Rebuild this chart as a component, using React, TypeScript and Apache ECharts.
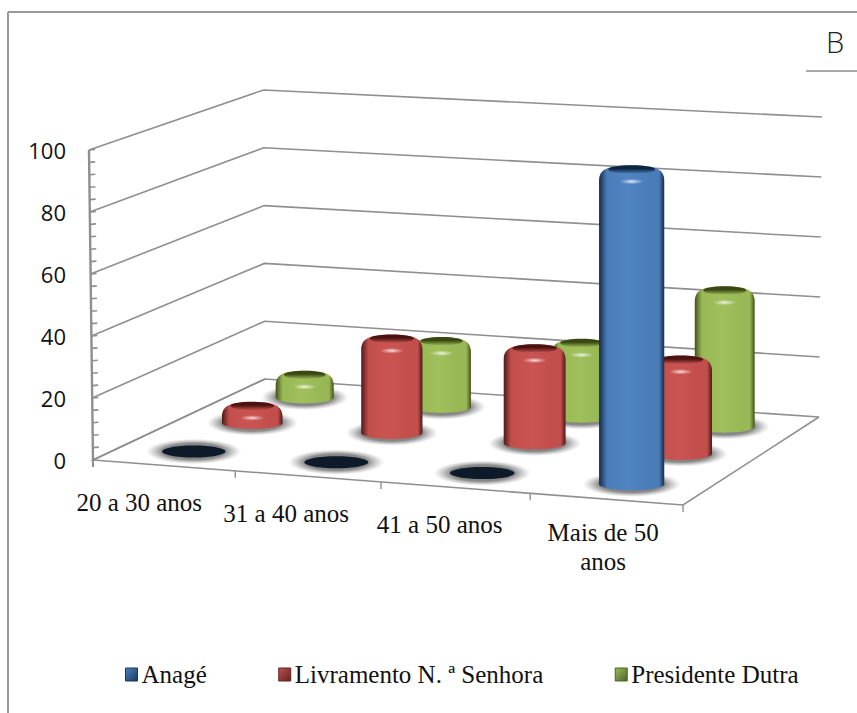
import React, { useEffect, useRef } from "react";
import * as echarts from "echarts";

const categories = ["20 a 30 anos", "31 a 40 anos", "41 a 50 anos", "Mais de 50\nanos"];
const yTicks = [0, 20, 40, 60, 80, 100];
const minorTicks = [0, 4, 8, 12, 16, 20, 24, 28, 32, 36, 40, 44, 48, 52, 56, 60, 64, 68, 72, 76, 80, 84, 88, 92, 96, 100];
const anage = [0, 0, 0, 100];
const livramento = [5, 30.5, 30.5, 30];
const presidente = [7, 21.5, 24, 44.5];

const seriesDepth = { anage: 0.16, livramento: 0.5, presidente: 0.82 };
const palettes = {
  anage: { main: "#4A7CB8", light: "#5085C2", edge: "#142c4a", cap: "#0e2540", legendA: "#4F81BD", legendB: "#17375E" },
  livramento: { main: "#C24F4C", light: "#CB5451", edge: "#4c1a18", cap: "#4a1311", legendA: "#C0504D", legendB: "#632523" },
  presidente: { main: "#98B856", light: "#A0C05C", edge: "#435219", cap: "#3a4712", legendA: "#9BBB59", legendB: "#4F6228" },
};

const GRID = { left: 93, top: 150, width: 590, height: 310 };
const FL = [93, 460], FR = [683, 505], BR = [819, 417], BL = [265, 379];
const FL_TOP = [89, 150], BL_TOP = [263.5, 90], BR_TOP = [822, 117];
const catLabelOffset = [
  [-24.5, 37],
  [-21.5, 37],
  [-15.5, 36.5],
  [-3, 48],
];
const barShiftX = 1.5;

function homography() {
  const sx = FL[0] - FR[0] + BR[0] - BL[0];
  const sy = FL[1] - FR[1] + BR[1] - BL[1];
  const dx1 = FR[0] - BR[0], dy1 = FR[1] - BR[1];
  const dx2 = BL[0] - BR[0], dy2 = BL[1] - BR[1];
  const den = dx1 * dy2 - dx2 * dy1;
  const g = (sx * dy2 - dx2 * sy) / den;
  const h = (dx1 * sy - sx * dy1) / den;
  const a = FR[0] - FL[0] + g * FR[0];
  const b = BL[0] - FL[0] + h * BL[0];
  const d = FR[1] - FL[1] + g * FR[1];
  const e = BL[1] - FL[1] + h * BL[1];
  return (u: number, v: number) => {
    const w = g * u + h * v + 1;
    return [(a * u + b * v + FL[0]) / w, (d * u + e * v + FL[1]) / w];
  };
}
const floor = homography();

function heightRatio(u: number, v: number) {
  const front = 1 + 0.02 * u;
  const back = 0.932 + 0.036 * u;
  return front + (back - front) * v;
}

const GREY = "#8f8f8f";
const lineStyle = { stroke: GREY, lineWidth: 1.6, fill: "none" };

function frameSeries() {
  return {
    type: "custom",
    name: "frame",
    silent: true,
    data: yTicks.map((t) => [0, t]),
    encode: { x: 0, y: 1 },
    z: 1,
    renderItem: (_: any, api: any) => {
      const val = api.value(1);
      const y0 = api.coord([0, 0])[1];
      const y1 = api.coord([0, 100])[1];
      const t = (y0 - api.coord([0, val])[1]) / (y0 - y1);
      const mix = (a: number[], b: number[]) => [a[0] + (b[0] - a[0]) * t, a[1] + (b[1] - a[1]) * t];
      return {
        type: "polyline",
        shape: { points: [mix(FL, FL_TOP), mix(BL, BL_TOP), mix(BR, BR_TOP)] },
        style: lineStyle,
      };
    },
  };
}

function axisDecorSeries() {
  return {
    type: "custom",
    name: "axisDecor",
    silent: true,
    data: minorTicks.map((t) => [0, t]),
    encode: { x: 0, y: 1 },
    z: 1,
    renderItem: (_: any, api: any) => {
      const val = api.value(1);
      const y0 = api.coord([0, 0])[1];
      const y1 = api.coord([0, 100])[1];
      const y = api.coord([0, val])[1];
      const t = (y0 - y) / (y0 - y1);
      const x = FL[0] + (FL_TOP[0] - FL[0]) * t;
      if (val === 0) {
        return { type: "line", shape: { x1: x, y1: y, x2: x, y2: y + 7 }, style: { stroke: GREY, lineWidth: 2 } };
      }
      return { type: "line", shape: { x1: x, y1: y, x2: x + 6, y2: y - 0.5 }, style: { stroke: GREY, lineWidth: 1.6 } };
    },
  };
}

function floorSeries() {
  return {
    type: "custom",
    name: "floor",
    silent: true,
    data: [[0, 0]],
    encode: { x: 0, y: 1 },
    z: 1,
    renderItem: () => {
      const children: any[] = [
        { type: "polyline", shape: { points: [BL, FL, FR, BR] }, style: lineStyle },
        { type: "line", shape: { x1: FL[0], y1: FL[1], x2: FL_TOP[0], y2: FL_TOP[1] }, style: { stroke: GREY, lineWidth: 2.4 } },
      ];
      categories.forEach((_, i) => {
        const p = floor((i + 1) / categories.length, 0);
        children.push({
          type: "line",
          shape: { x1: p[0], y1: p[1], x2: p[0], y2: p[1] + 7 },
          style: { stroke: GREY, lineWidth: 1.4 },
        });
      });
      return { type: "group", children };
    },
  };
}

function catLabelSeries() {
  return {
    type: "custom",
    name: "catLabels",
    silent: true,
    data: categories.map((_, i) => [i, 0]),
    encode: { x: 0, y: 1 },
    z: 5,
    renderItem: (_: any, api: any) => {
      const i = api.value(0);
      const u = (api.coord([i, 0])[0] - GRID.left) / GRID.width;
      const p = floor(u, 0);
      return {
        type: "text",
        style: {
          x: p[0] + catLabelOffset[i][0],
          y: p[1] + catLabelOffset[i][1],
          text: categories[i],
          fill: "#111",
          font: '25px "Liberation Serif"',
          align: "center",
          verticalAlign: "middle",
          lineHeight: 29,
        },
      };
    },
  };
}

function barSeries(name: string, key: keyof typeof palettes, values: number[], z: number) {
  const pal = palettes[key];
  const v = seriesDepth[key];
  return {
    type: "custom",
    name,
    data: values.map((val, i) => [i, val]),
    encode: { x: 0, y: 1 },
    z,
    itemStyle: { color: pal.main },
    renderItem: (_: any, api: any) => {
      const i = api.value(0);
      const val = api.value(1);
      const c0 = api.coord([i, 0]);
      const u = (c0[0] - GRID.left) / GRID.width;
      const base = floor(u, v);
      const cx = base[0] + barShiftX;
      const yb = base[1];
      const h = (c0[1] - api.coord([i, val])[1]) * heightRatio(u, v);
      const w = 63 + u * 2.5 - (v - 0.16) * 8;
      const hw = w / 2;
      const l = cx - hw, r = cx + hw;
      const ry = 6;
      const shadow = {
        type: "ellipse",
        shape: { cx, cy: yb, rx: hw * 1.5, ry: ry * 2.1 },
        style: {
          fill: {
            type: "radial", x: 0.5, y: 0.5, r: 0.5,
            colorStops: [
              { offset: 0, color: "rgba(70,70,70,0.85)" },
              { offset: 0.66, color: "rgba(90,90,90,0.7)" },
              { offset: 1, color: "rgba(140,140,140,0)" },
            ],
          },
        },
      };
      if (val === 0) {
        return {
          type: "group",
          children: [
            shadow,
            { type: "ellipse", shape: { cx, cy: yb, rx: hw, ry }, style: { fill: "#0c1a2a" } },
          ],
        };
      }
      const yt = yb - h;
      const top = yt - 6;
      const d =
        `M${l} ${yb}A${hw} ${ry} 0 0 0 ${r} ${yb}L${r} ${top + 15}` +
        `C${r} ${top + 3} ${cx + hw * 0.7} ${top} ${cx} ${top}` +
        `C${cx - hw * 0.7} ${top} ${l} ${top + 3} ${l} ${top + 15}Z`;
      return {
        type: "group",
        children: [
          shadow,
          {
            type: "path",
            shape: { pathData: d },
            style: {
              fill: {
                type: "linear", x: 0, y: 0, x2: 1, y2: 0,
                colorStops: [
                  { offset: 0, color: pal.edge },
                  { offset: 0.12, color: pal.main },
                  { offset: 0.45, color: pal.light },
                  { offset: 0.78, color: pal.main },
                  { offset: 0.92, color: pal.main },
                  { offset: 1, color: pal.edge },
                ],
              },
            },
          },
          {
            type: "ellipse",
            shape: { cx, cy: top + 4, rx: hw * 0.72, ry: 4.2 },
            style: {
              fill: {
                type: "linear", x: 0, y: 0, x2: 0, y2: 1,
                colorStops: [
                  { offset: 0, color: pal.cap },
                  { offset: 0.4, color: pal.cap },
                  { offset: 1, color: pal.main },
                ],
              },
            },
          },
          {
            type: "ellipse",
            shape: { cx, cy: top + 16, rx: 12, ry: 2.8 },
            style: {
              fill: {
                type: "radial", x: 0.5, y: 0.5, r: 0.5,
                colorStops: [
                  { offset: 0, color: "rgba(255,255,255,0.85)" },
                  { offset: 0.4, color: "rgba(255,255,255,0.45)" },
                  { offset: 1, color: "rgba(255,255,255,0)" },
                ],
              },
            },
          },
        ],
      };
    },
  };
}

function legendIcon(key: keyof typeof palettes) {
  const p = palettes[key];
  return {
    color: { type: "linear", x: 0, y: 0, x2: 1, y2: 1, colorStops: [{ offset: 0, color: p.legendA }, { offset: 1, color: p.legendB }] },
    borderColor: p.legendB,
    borderWidth: 1,
  };
}

export default function App() {
  const ref = useRef<HTMLDivElement>(null);
  useEffect(() => {
    document.body.style.margin = "0";
    const chart = echarts.init(ref.current!, undefined, { renderer: "svg" });
    chart.setOption({
      animation: false,
      backgroundColor: "#fff",
      grid: { ...GRID },
      xAxis: { type: "category", data: categories.map((c) => c.replace("\n", " ")), show: false },
      yAxis: {
        type: "value",
        min: 0,
        max: 100,
        interval: 20,
        axisLine: { show: false },
        axisTick: { show: false },
        splitLine: { show: false },
        axisLabel: { margin: 27, color: "#111", fontFamily: "Open Sans", fontSize: 22, align: "right", padding: [3, 0, 0, 0] },
      },
      legend: {
        left: 120,
        top: 657,
        itemWidth: 12,
        itemHeight: 13,
        itemGap: 71.5,
        textStyle: { fontFamily: "Liberation Serif", fontSize: 25, color: "#111", padding: [0, 0, 0, -1] },
        data: [
          { name: "Anagé", icon: "rect", itemStyle: legendIcon("anage") },
          { name: "Livramento N. ª Senhora", icon: "rect", itemStyle: legendIcon("livramento") },
          { name: "Presidente Dutra", icon: "rect", itemStyle: legendIcon("presidente") },
        ],
      },
      graphic: [
        { type: "line", silent: true, shape: { x1: 8, y1: 12, x2: 857, y2: 12 }, style: { stroke: "#9a9a9a", lineWidth: 2 } },
        { type: "line", silent: true, shape: { x1: 8, y1: 12, x2: 8, y2: 713 }, style: { stroke: "#9a9a9a", lineWidth: 2 } },
        { type: "line", silent: true, shape: { x1: 806, y1: 71, x2: 857, y2: 71 }, style: { stroke: "#555", lineWidth: 1 } },
        { type: "text", silent: true, style: { x: 826, y: 27, text: "B", fill: "#222", font: '300 29px "Open Sans"' } },
      ],
      series: [
        frameSeries(),
        floorSeries(),
        axisDecorSeries(),
        catLabelSeries(),
        barSeries("Presidente Dutra", "presidente", presidente, 2),
        barSeries("Livramento N. ª Senhora", "livramento", livramento, 3),
        barSeries("Anagé", "anage", anage, 4),
      ],
    });
    return () => chart.dispose();
  }, []);
  return <div ref={ref} style={{ position: "absolute", left: 0, top: 0, width: 857, height: 713 }} />;
}
